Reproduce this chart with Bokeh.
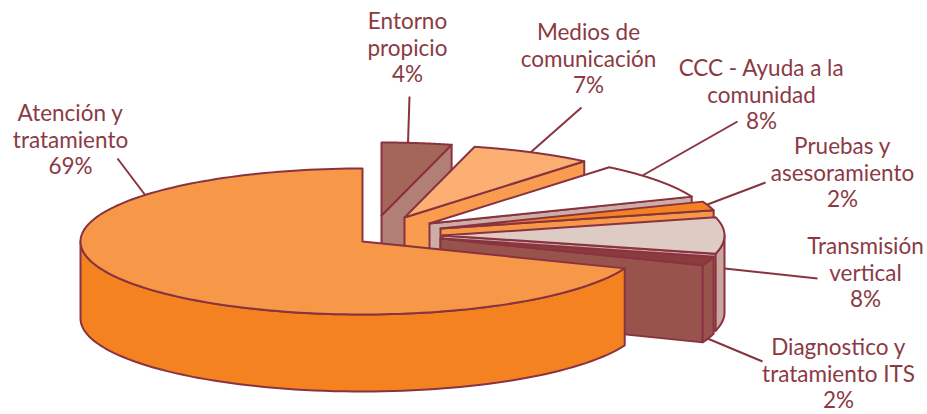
import numpy as np
from bokeh.core.properties import value
from bokeh.embed import file_html
from bokeh.models import ColumnDataSource, Range1d
from bokeh.plotting import figure
from bokeh.resources import INLINE

# Shares in percent, clockwise from twelve o'clock
categories = [
    "Entorno propicio",
    "Medios de comunicación",
    "CCC - Ayuda a la comunidad",
    "Pruebas y asesoramiento",
    "Transmisión vertical",
    "Diagnostico y tratamiento ITS",
    "Atención y tratamiento",
]
shares = [4, 7, 8, 2, 8, 2, 69]

# Label wording, broken into lines; the percentage is appended from shares
label_lines = [
    ["Entorno", "propicio"],
    ["Medios de", "comunicación"],
    ["CCC - Ayuda a la", "comunidad"],
    ["Pruebas y", "asesoramiento"],
    ["Transmisión", "vertical"],
    ["Diagnostico y", "tratamiento ITS"],
    ["Atención y", "tratamiento"],
]

# Slice styling
top_colors = ["#A5665A", "#FBAF72", "#FFFFFF", "#F58220", "#DDCBC4", "#8C3B3C", "#F79848"]
wall_colors = ["#B17F73", "#F99C50", "#CDADA6", "#F79848", "#C9A69E", "#98544C", "#F58220"]
OUTLINE = "#8A3340"
TEXT = "#8B3A44"

# Pie layout in page pixels
CX, CY = 362, 241
RX, RY = 282, 73
DEPTH = 77
explode_x = [19, 42, 67, 78, 80, 78, 0]
explode_y = [-26, -24, -18, -13, -6, -3, 0]

# Label placement: centre x and first baseline
label_x = [407, 588, 761, 842, 865, 838, 70]
label_y = [28, 39, 75, 153, 253, 354, 120]
LINE_STEP = 26.5
# The text glyph sits lower than its anchor by this much in the rendered page
BASELINE_SHIFT = -8

# Leader lines: label end and slice end
leader_x0 = [409, 581, 737, 765, 817, 762, 117]
leader_y0 = [96, 107, 121, 182, 278, 361, 158]
leader_x1 = [407.5, 530, 642, 707, 724, 707, 145]
leader_y1 = [143, 152, 175, 204, 268, 338, 195]


def rim(cx, cy, a0, a1, n=80):
    """Points on the elliptical rim between two clockwise angles from north (degrees)."""
    t = np.radians(np.linspace(a0, a1, n))
    return cx + RX * np.sin(t), cy - RY * np.cos(t)


xs, ys, fills = [], [], []


def add(px, py, color):
    xs.append(list(map(float, px)))
    ys.append(list(map(float, py)))
    fills.append(color)


# Painter's order: the shares list already runs from the back slices to the front one
start = 0.0
for i, share in enumerate(shares):
    a0, a1 = start, start + share * 3.6
    start = a1
    cx, cy = CX + explode_x[i], CY + explode_y[i]

    # Radial wall on the clockwise edge, visible on the right-hand half only
    if a1 < 180:
        ex, ey = rim(cx, cy, a1, a1, 1)
        add([cx, ex[0], ex[0], cx], [cy, ey[0], ey[0] + DEPTH, cy + DEPTH], wall_colors[i])

    # Outer wall wherever the rim faces the viewer
    w0, w1 = max(a0, 90), min(a1, 270)
    if w1 > w0:
        rx_, ry_ = rim(cx, cy, w0, w1)
        add(np.r_[rx_, rx_[::-1]], np.r_[ry_, ry_[::-1] + DEPTH], wall_colors[i])

    # Top surface
    rx_, ry_ = rim(cx, cy, a0, a1, 160)
    add(np.r_[cx, rx_], np.r_[cy, ry_], top_colors[i])

p = figure(
    width=927,
    height=414,
    x_range=Range1d(0, 927),
    y_range=Range1d(414, 0),
    output_backend="svg",
    toolbar_location=None,
    min_border=0,
    outline_line_color=None,
    background_fill_color="white",
    border_fill_color="white",
)
p.xaxis.visible = False
p.yaxis.visible = False
p.grid.visible = False

p.patches(
    "xs", "ys",
    source=ColumnDataSource(dict(xs=xs, ys=ys, fill=fills)),
    fill_color="fill",
    line_color=OUTLINE,
    line_width=2,
    line_join="round",
)

p.segment(leader_x0, leader_y0, leader_x1, leader_y1, line_color=OUTLINE, line_width=2)

tx, ty, tt = [], [], []
for lines, x, y, share in zip(label_lines, label_x, label_y, shares):
    for j, line in enumerate(lines + [f"{share}%"]):
        tx.append(x)
        ty.append(y + j * LINE_STEP + BASELINE_SHIFT)
        tt.append(line)

p.text(
    tx, ty, text=tt,
    text_font=value("Lato"),
    text_font_size="22.5px",
    text_color=TEXT,
    text_align="center",
    text_baseline="alphabetic",
)

open("out.html", "w").write(file_html(p, INLINE))
